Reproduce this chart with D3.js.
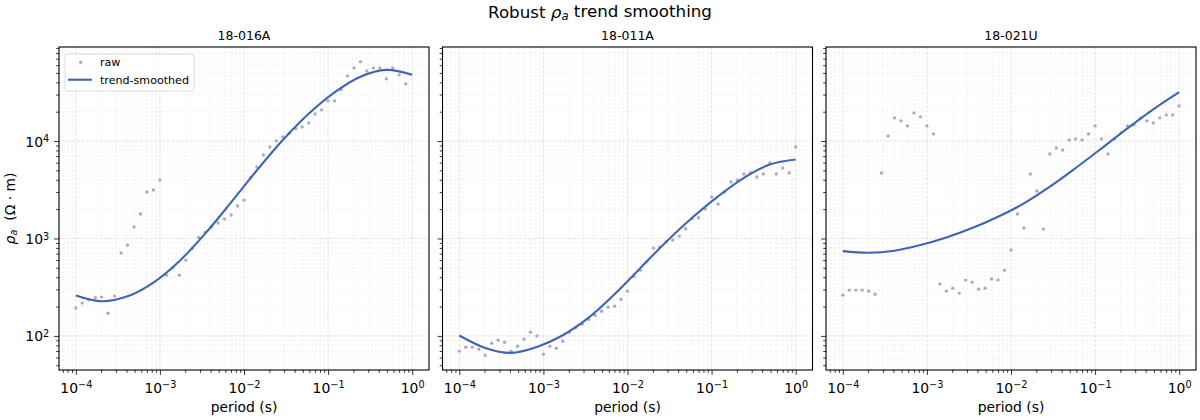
<!DOCTYPE html>
<html>
<head>
<meta charset="utf-8">
<script src="https://cdn.jsdelivr.net/npm/d3@7"></script>
<style>
  body { margin: 0; background: #fff; }
  text { font-family: "DejaVu Sans", sans-serif; fill: #000; }
</style>
</head>
<body>
<script>
// sample periods (s), shared by all stations
const periods = [
  1.000e-4, 1.194e-4, 1.425e-4, 1.701e-4, 2.031e-4, 2.424e-4, 2.894e-4, 3.454e-4, 4.123e-4, 4.922e-4, 5.876e-4, 7.014e-4, 8.373e-4,
  1.000e-3, 1.194e-3, 1.425e-3, 1.701e-3, 2.031e-3, 2.424e-3, 2.894e-3, 3.454e-3, 4.123e-3, 4.922e-3, 5.876e-3, 7.014e-3, 8.373e-3,
  1.000e-2, 1.194e-2, 1.425e-2, 1.701e-2, 2.031e-2, 2.424e-2, 2.894e-2, 3.454e-2, 4.123e-2, 4.922e-2, 5.876e-2, 7.014e-2, 8.373e-2,
  1.000e-1, 1.194e-1, 1.425e-1, 1.701e-1, 2.031e-1, 2.424e-1, 2.894e-1, 3.454e-1, 4.123e-1, 4.922e-1, 5.876e-1, 7.014e-1, 8.373e-1,
  1.000
];

const stations = ["18-016A", "18-011A", "18-021U"];

// raw apparent resistivity (ohm m)
const raw016A = [193, 217, 235, 246, 250, 171, 256, 708, 855, 1309,
  1781, 2998, 3141, 3981, 420, 500, 420, 600, 789, 1024,
  1150, 1318, 1439, 1583, 1738, 2153, 2477, 4207, 5408, 7190,
  8690, 10020, 11020, 12000, 13400, 13960, 15350, 18970, 20890, 25820,
  25820, 33730, 46680, 56330, 65000, 52500, 56330, 56330, 43460, 56330,
  47760, 38620, null];
const raw011A = [69.6, 76.5, 76.5, 73, 63.3, 84.1, 90.2, 86.1, 69.6, 78.3,
  92.5, 109, 99.8, 64.8, 78.3, 74.7, 88.2, 109, 122, 132,
  147, 163, 179, 197, 202, 238, 288, 404, 473, 576,
  796, 815, 925, 962, 1058, 1259, 1606, 1633, 2004, 2663,
  2256, 2998, 3796, 3981, 4585, 4733, 4276, 4585, 5953, 4585,
  5290, 4700, 8690];
const raw021U = [262, 295, 295, 295, 288, 268, 4700, 11280, 17270, 16100,
  14300, 19440, 17700, 14300, 11830, 340, 288, 309, 275, 374,
  356, 302, 309, 383, 374, 473, 760, 1782, 1279, 4585,
  3070, 1248, 7370, 8490, 8100, 10260, 10510, 10260, 11830, 14300,
  10510, 7370, 10510, 12110, 14300, 14630, 17120, 16100, 15350, 17270,
  18540, 18540, 22940];

// trend-smoothed curve, read at every 4th period
const trendPeriods = [1.000e-4, 2.031e-4, 4.123e-4, 8.373e-4, 1.701e-3, 3.454e-3, 7.014e-3,
  1.425e-2, 2.894e-2, 5.876e-2, 1.194e-1, 2.424e-1, 4.922e-1, 1.000];
const trend016A = [260, 227, 255, 353, 585, 1122, 2344, 5012, 10230, 19050, 31620, 45710, 53700, 47860];
const trend011A = [101, 75.3, 66.9, 77.1, 101.6, 153.8, 267.3, 497.7, 926.8, 1629, 2704, 4188, 5728, 6457];
const trend021U = [741, 713, 748, 855, 1024, 1279, 1671, 2291, 3398, 5290, 8414, 13490, 21130, 31700];

const xTicks = [1e-4, 1e-3, 1e-2, 1e-1, 1e0];
const yTicks = [1e2, 1e3, 1e4];

const rawSeries = [raw016A, raw011A, raw021U];
const trendSeries = [trend016A, trend011A, trend021U];

const w = 1200;
const h = 420;
const plotTop = 47;
const ph = 323;
const pw = 370;
const lefts = [59, 442.5, 826];
const rawColor = "#a7aec2";
const lineColor = "#3f64b0";

const svg = d3.select("body").append("svg").attr("width", w).attr("height", h);

const yScale = d3.scaleLog().domain([Math.pow(10, 1.65), Math.pow(10, 4.965)]).range([plotTop + ph, plotTop]);

const supLabel = (sel, d) => {
  const e = Math.round(Math.log10(d));
  sel.text("10");
  sel.append("tspan").attr("dy", "-0.45em").attr("font-size", "70%").text(e < 0 ? "\u2212" + (-e) : e);
};

// suptitle
const title = svg.append("text").attr("x", 600).attr("y", 17.5).attr("text-anchor", "middle").style("font-size", "16.7px");
title.append("tspan").text("Robust ");
title.append("tspan").attr("font-style", "italic").text("\u03c1");
title.append("tspan").attr("font-style", "italic").attr("font-size", "70%").attr("dy", "0.25em").text("a");
title.append("tspan").attr("dy", "-0.18em").text(" trend smoothing");

stations.forEach((name, i) => {
  const x0 = lefts[i];
  const xScale = d3.scaleLog().domain([Math.pow(10, -4.2), Math.pow(10, 0.2)]).range([x0, x0 + pw]);
  const g = svg.append("g");

  const minorX = xScale.ticks().filter((t) => !xTicks.includes(t));
  const minorY = yScale.ticks().filter((t) => !yTicks.includes(t));

  // grid
  g.selectAll(".gxm").data(minorX).enter().append("line")
    .attr("x1", (d) => xScale(d)).attr("x2", (d) => xScale(d))
    .attr("y1", plotTop).attr("y2", plotTop + ph)
    .attr("stroke", "#d8d8d8").attr("stroke-width", 0.5).attr("stroke-dasharray", "2,2").attr("opacity", 0.7);
  g.selectAll(".gym").data(minorY).enter().append("line")
    .attr("y1", (d) => yScale(d)).attr("y2", (d) => yScale(d))
    .attr("x1", x0).attr("x2", x0 + pw)
    .attr("stroke", "#d8d8d8").attr("stroke-width", 0.5).attr("stroke-dasharray", "2,2").attr("opacity", 0.7);
  g.selectAll(".gxM").data(xTicks).enter().append("line")
    .attr("x1", (d) => xScale(d)).attr("x2", (d) => xScale(d))
    .attr("y1", plotTop).attr("y2", plotTop + ph)
    .attr("stroke", "#cfcfcf").attr("stroke-width", 0.7).attr("stroke-dasharray", "3,1.5").attr("opacity", 0.8);
  g.selectAll(".gyM").data(yTicks).enter().append("line")
    .attr("y1", (d) => yScale(d)).attr("y2", (d) => yScale(d))
    .attr("x1", x0).attr("x2", x0 + pw)
    .attr("stroke", "#cfcfcf").attr("stroke-width", 0.7).attr("stroke-dasharray", "3,1.5").attr("opacity", 0.8);

  // raw points
  const pts = periods.map((p, k) => [p, rawSeries[i][k]]).filter((d) => d[1] != null);
  g.selectAll(".raw").data(pts).enter().append("circle")
    .attr("cx", (d) => xScale(d[0])).attr("cy", (d) => yScale(d[1]))
    .attr("r", 1.7).attr("fill", rawColor);

  // trend line
  const line = d3.line()
    .x((d) => xScale(d[0])).y((d) => yScale(d[1]))
    .curve(d3.curveCatmullRom.alpha(0.5));
  g.append("path")
    .datum(trendPeriods.map((p, k) => [p, trendSeries[i][k]]))
    .attr("d", line).attr("fill", "none")
    .attr("stroke", lineColor).attr("stroke-width", 2.1);

  // axes
  const xAxis = g.append("g").attr("transform", "translate(0," + (plotTop + ph) + ")")
    .call(d3.axisBottom(xScale).tickValues(xTicks).tickSize(4.9).tickPadding(4.9));
  xAxis.selectAll(".tick text").attr("y", 22.5).attr("dy", 0).style("font-size", "13.9px")
    .each(function (d) { supLabel(d3.select(this), d); });
  g.append("g").attr("transform", "translate(0," + (plotTop + ph) + ")")
    .call(d3.axisBottom(xScale).tickValues(minorX).tickSize(2.8).tickFormat(""));

  const yAxis = g.append("g").attr("transform", "translate(" + x0 + ",0)")
    .call(d3.axisLeft(yScale).tickValues(yTicks).tickSize(4.9).tickPadding(4.9));
  if (i === 0) {
    yAxis.selectAll(".tick text").attr("dy", "0.36em").style("font-size", "13.9px")
      .each(function (d) { supLabel(d3.select(this), d); });
  } else {
    yAxis.selectAll(".tick text").remove();
  }
  g.append("g").attr("transform", "translate(" + x0 + ",0)")
    .call(d3.axisLeft(yScale).tickValues(minorY).tickSize(2.8).tickFormat(""));

  g.selectAll(".domain").remove();
  g.selectAll(".tick line").attr("stroke", "#000").attr("stroke-width", 0.8);

  // frame
  g.append("rect").attr("x", x0).attr("y", plotTop).attr("width", pw).attr("height", ph)
    .attr("fill", "none").attr("stroke", "#000").attr("stroke-width", 1.1);

  // titles
  g.append("text").attr("x", x0 + pw / 2).attr("y", 39.5).attr("text-anchor", "middle")
    .style("font-size", "12.5px").text(name);
  g.append("text").attr("x", x0 + pw / 2).attr("y", 412).attr("text-anchor", "middle")
    .style("font-size", "13.9px").text("period (s)");

  if (i === 0) {
    // legend
    const lg = g.append("g");
    lg.append("rect").attr("x", 65).attr("y", 54).attr("width", 129).attr("height", 37).attr("rx", 2.5)
      .attr("fill", "#fff").attr("fill-opacity", 0.8).attr("stroke", "#d0d0d0").attr("stroke-width", 0.8);
    lg.append("circle").attr("cx", 80.7).attr("cy", 62.3).attr("r", 1.7).attr("fill", rawColor);
    lg.append("line").attr("x1", 68).attr("x2", 92).attr("y1", 79.7).attr("y2", 79.7)
      .attr("stroke", lineColor).attr("stroke-width", 2.1);
    lg.append("text").attr("x", 100).attr("y", 66).style("font-size", "11.1px").text("raw");
    lg.append("text").attr("x", 100).attr("y", 83.5).style("font-size", "11.1px").text("trend-smoothed");
  }
});

// y label
const yl = svg.append("text").attr("transform", "translate(15," + (plotTop + ph / 2) + ") rotate(-90)")
  .attr("text-anchor", "middle").style("font-size", "13.9px");
yl.append("tspan").attr("font-style", "italic").text("\u03c1");
yl.append("tspan").attr("font-style", "italic").attr("font-size", "70%").attr("dy", "0.25em").text("a");
yl.append("tspan").attr("dy", "-0.18em").text("\u00a0\u00a0(\u03a9 \u00b7 m)");
</script>
</body>
</html>
